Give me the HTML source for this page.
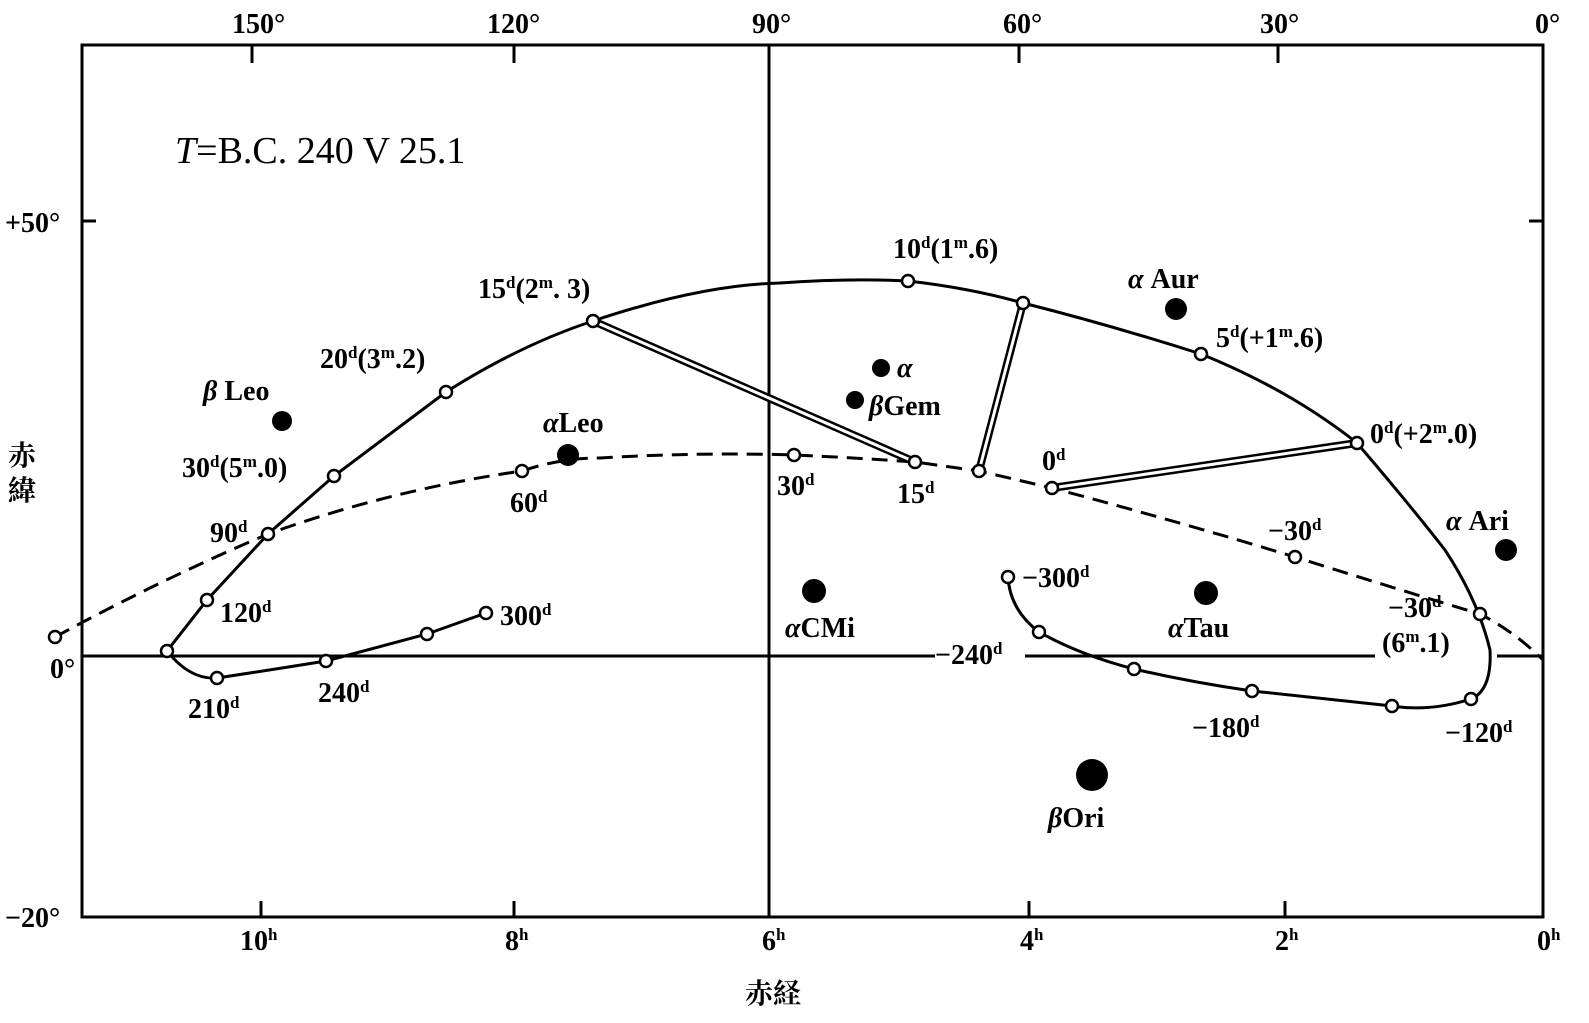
<!DOCTYPE html>
<html><head><meta charset="utf-8"><style>
html,body{margin:0;padding:0;background:#fff;}
svg{display:block;}
text{font-family:"Liberation Serif","Noto Serif CJK SC",serif;font-size:28px;fill:#000;font-weight:bold;}
.s{font-size:17px;}
</style></head><body>
<svg width="1589" height="1023" viewBox="0 0 1589 1023" xmlns="http://www.w3.org/2000/svg">
<g stroke="#000" fill="none">
<rect x="82" y="45" width="1461" height="872" stroke-width="3"/>
<line x1="769" y1="45" x2="769" y2="917" stroke-width="3"/>
<path d="M82 656H935M1025 656H1375M1497 656H1543" stroke-width="3"/>
<path d="M252 45v18M514 45v18M1019 45v18M1278 45v18M261 917v-16M514 917v-16M1029 917v-16M1285 917v-16M82 221h14M1543 221h-14" stroke-width="3"/>
<path d="M167 651L207 600L268 534L334 476L446 392Q520 345 593 321Q700 285 780 283Q850 278 908 281Q970 288 1023 303Q1110 325 1201 354Q1290 390 1357 443Q1410 505 1445 550Q1478 600 1490 650Q1492 690 1471 699Q1430 712 1392 706Q1320 698 1252 691Q1190 682 1134 669Q1080 655 1039 632Q1010 610 1008 577" stroke-width="3"/>
<path d="M167 651Q190 680 217 678Q270 670 326 661L427 634L486 613" stroke-width="3"/>
<path d="M55 637Q160 580 268 534Q390 490 522 471Q560 458 600 458Q700 452 794 455Q860 458 915 462L979 471L1052 488Q1180 522 1295 557Q1400 590 1480 614Q1515 632 1543 660" stroke-width="3" stroke-dasharray="16 9"/>
<g stroke-width="8"><path d="M593 321L915 462M1023 303L979 471M1357 443L1052 488"/></g>
<g stroke-width="3" stroke="#fff"><path d="M593 321L915 462M1023 303L979 471M1357 443L1052 488"/></g>
</g>
<g fill="#fff" stroke="#000" stroke-width="2.5">
<circle cx="167" cy="651" r="6"/><circle cx="207" cy="600" r="6"/><circle cx="268" cy="534" r="6"/><circle cx="334" cy="476" r="6"/><circle cx="446" cy="392" r="6"/><circle cx="593" cy="321" r="6"/><circle cx="908" cy="281" r="6"/><circle cx="1023" cy="303" r="6"/><circle cx="1201" cy="354" r="6"/><circle cx="1357" cy="443" r="6"/><circle cx="1480" cy="614" r="6"/><circle cx="1471" cy="699" r="6"/><circle cx="1392" cy="706" r="6"/><circle cx="1252" cy="691" r="6"/><circle cx="1134" cy="669" r="6"/><circle cx="1039" cy="632" r="6"/><circle cx="1008" cy="577" r="6"/><circle cx="217" cy="678" r="6"/><circle cx="326" cy="661" r="6"/><circle cx="427" cy="634" r="6"/><circle cx="486" cy="613" r="6"/><circle cx="55" cy="637" r="6"/><circle cx="522" cy="471" r="6"/><circle cx="794" cy="455" r="6"/><circle cx="915" cy="462" r="6"/><circle cx="979" cy="471" r="6"/><circle cx="1052" cy="488" r="6"/><circle cx="1295" cy="557" r="6"/>
</g>
<g fill="#000">
<circle cx="282" cy="421" r="10"/><circle cx="568" cy="455" r="11"/><circle cx="881" cy="368" r="9"/><circle cx="855" cy="400" r="9"/><circle cx="1176" cy="309" r="11"/><circle cx="814" cy="591" r="12"/><circle cx="1206" cy="593" r="12"/><circle cx="1092" cy="775" r="16"/><circle cx="1506" cy="550" r="11"/>
</g>
<text x="232" y="33">150°</text><text x="487" y="33">120°</text><text x="752" y="33">90°</text><text x="1003" y="33">60°</text><text x="1260" y="33">30°</text><text x="1535" y="33">0°</text>
<text x="5" y="232">+50°</text><text x="50" y="678">0°</text><text x="5" y="927">−20°</text>
<text x="240" y="950">10<tspan class="s" dy="-10">h</tspan></text><text x="505" y="950">8<tspan class="s" dy="-10">h</tspan></text><text x="762" y="950">6<tspan class="s" dy="-10">h</tspan></text><text x="1020" y="950">4<tspan class="s" dy="-10">h</tspan></text><text x="1275" y="950">2<tspan class="s" dy="-10">h</tspan></text><text x="1537" y="950">0<tspan class="s" dy="-10">h</tspan></text>
<text x="745" y="1003">赤経</text>
<text x="8" y="465">赤</text><text x="8" y="500">緯</text>
<text x="175" y="163" style="font-size:38px;font-weight:normal"><tspan font-style="italic">T</tspan>=B.C. 240  V  25.1</text>
<text x="478" y="298">15<tspan class="s" dy="-10">d</tspan><tspan dy="10">(2</tspan><tspan class="s" dy="-10">m</tspan><tspan dy="10">. 3)</tspan></text>
<text x="320" y="368">20<tspan class="s" dy="-10">d</tspan><tspan dy="10">(3</tspan><tspan class="s" dy="-10">m</tspan><tspan dy="10">.2)</tspan></text>
<text x="182" y="477">30<tspan class="s" dy="-10">d</tspan><tspan dy="10">(5</tspan><tspan class="s" dy="-10">m</tspan><tspan dy="10">.0)</tspan></text>
<text x="210" y="542">90<tspan class="s" dy="-10">d</tspan></text>
<text x="220" y="622">120<tspan class="s" dy="-10">d</tspan></text>
<text x="188" y="718">210<tspan class="s" dy="-10">d</tspan></text>
<text x="318" y="702">240<tspan class="s" dy="-10">d</tspan></text>
<text x="500" y="625">300<tspan class="s" dy="-10">d</tspan></text>
<text x="510" y="512">60<tspan class="s" dy="-10">d</tspan></text>
<text x="777" y="495">30<tspan class="s" dy="-10">d</tspan></text>
<text x="897" y="503">15<tspan class="s" dy="-10">d</tspan></text>
<text x="1042" y="470">0<tspan class="s" dy="-10">d</tspan></text>
<text x="893" y="258">10<tspan class="s" dy="-10">d</tspan><tspan dy="10">(1</tspan><tspan class="s" dy="-10">m</tspan><tspan dy="10">.6)</tspan></text>
<text x="1216" y="347">5<tspan class="s" dy="-10">d</tspan><tspan dy="10">(+1</tspan><tspan class="s" dy="-10">m</tspan><tspan dy="10">.6)</tspan></text>
<text x="1370" y="443">0<tspan class="s" dy="-10">d</tspan><tspan dy="10">(+2</tspan><tspan class="s" dy="-10">m</tspan><tspan dy="10">.0)</tspan></text>
<text x="1268" y="540">−30<tspan class="s" dy="-10">d</tspan></text>
<text x="1388" y="617">−30<tspan class="s" dy="-10">d</tspan></text>
<text x="1382" y="652">(6<tspan class="s" dy="-10">m</tspan><tspan dy="10">.1)</tspan></text>
<text x="1022" y="587">−300<tspan class="s" dy="-10">d</tspan></text>
<text x="935" y="664">−240<tspan class="s" dy="-10">d</tspan></text>
<text x="1192" y="737">−180<tspan class="s" dy="-10">d</tspan></text>
<text x="1445" y="742">−120<tspan class="s" dy="-10">d</tspan></text>
<text x="203" y="400"><tspan font-style="italic">β</tspan> Leo</text>
<text x="543" y="432"><tspan font-style="italic">α</tspan>Leo</text>
<text x="897" y="377"><tspan font-style="italic">α</tspan></text>
<text x="869" y="415"><tspan font-style="italic">β</tspan>Gem</text>
<text x="1128" y="288"><tspan font-style="italic">α</tspan> Aur</text>
<text x="785" y="637"><tspan font-style="italic">α</tspan>CMi</text>
<text x="1168" y="637"><tspan font-style="italic">α</tspan>Tau</text>
<text x="1048" y="827"><tspan font-style="italic">β</tspan>Ori</text>
<text x="1446" y="530"><tspan font-style="italic">α</tspan> Ari</text>
</svg>
</body></html>
